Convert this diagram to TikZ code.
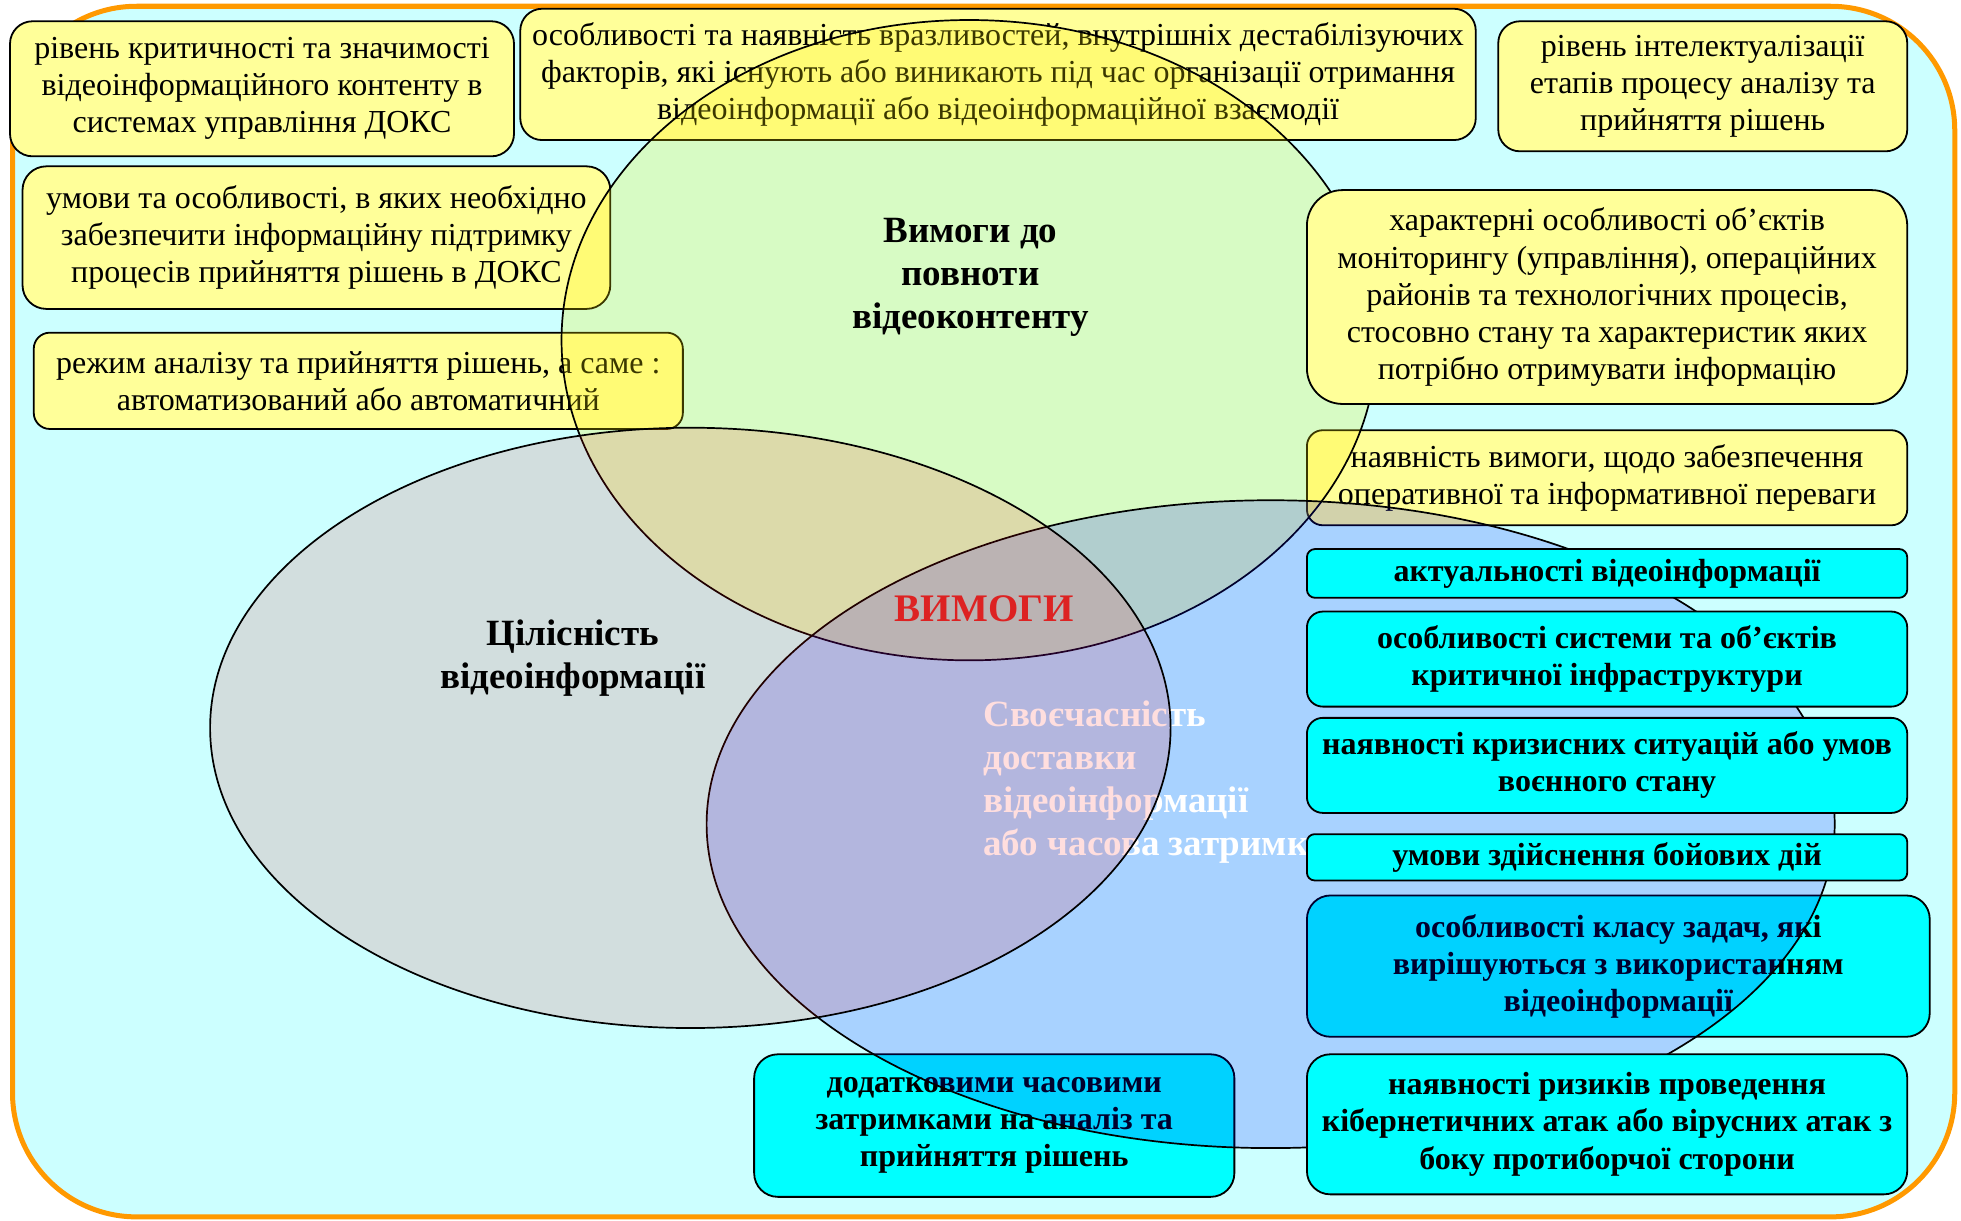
\documentclass[tikz,border=0pt]{standalone}
\usepackage{fontspec}
\setmainfont{Liberation Serif}
\definecolor{bgc}{HTML}{CCFFFF}
\definecolor{framec}{HTML}{FF9900}
\definecolor{yboxc}{HTML}{FFFF99}
\definecolor{cboxc}{HTML}{00FFFF}
\definecolor{vredc}{HTML}{DD2222}
\tikzset{
 ybx/.style={draw=black, line width=0.9pt, fill=yboxc, align=center, inner sep=0pt, font=\fontsize{16}{18.5}\selectfont},
 cbx/.style={draw=black, line width=0.9pt, fill=cboxc, align=center, inner sep=0pt, font=\fontsize{16}{18.5}\selectfont\bfseries},
 venn/.style={draw=black, line width=0.85pt},
 lbl/.style={align=center, inner sep=0pt, font=\fontsize{18.5}{21.5}\selectfont\bfseries}
}
\newcommand\pbox[7]{%
  \pgfmathsetmacro\bw{(#4-#2)*0.625}%
  \pgfmathsetmacro\bh{(#5-#3)*0.625}%
  \pgfmathsetmacro\br{min(\bw,\bh)/6}%
  \node[#6, minimum width=\bw pt, minimum height=\bh pt, rounded corners=\br pt] (#1) at ({(#2+#4)/2},{(#3+#5)/2}) {#7};%
}
\begin{document}
\begin{tikzpicture}[x=0.625pt,y=-0.625pt]
\useasboundingbox (0,0) rectangle (1568,976);
% frame
\draw[framec, line width=2.5pt, fill=bgc, rounded corners=62pt] (10,5) rectangle (1563,973);
% boxes lying under the circles
\pbox{y2}{416}{7}{1180}{112}{ybx}{особливості та наявність вразливостей, внутрішніх дестабілізуючих\\факторів, які існують або виникають під час організації отримання\\відеоінформації або відеоінформаційної взаємодії}
\pbox{y4}{18}{133}{488}{247}{ybx}{умови та особливості, в яких необхідно\\забезпечити інформаційну підтримку\\процесів прийняття рішень в ДОКС}
\pbox{y5}{27}{266}{546}{343}{ybx}{режим аналізу та прийняття рішень, а саме :\\автоматизований або автоматичний}
\pbox{y7}{1045}{344}{1525}{420}{ybx}{наявність вимоги, щодо забезпечення\\оперативної та інформативної переваги}
\pbox{c5}{1045}{716}{1543}{829}{cbx}{особливості класу задач, які\\вирішуються з використанням\\відеоінформації}
\pbox{c7}{603}{843}{987}{957}{cbx}{додатковими часовими\\затримками на аналіз та\\прийняття рішень}
% circles
\draw[venn, fill=yellow, fill opacity=0.23] (775,272) ellipse [x radius=203.75pt, y radius=160pt];
\draw[venn, fill=blue, fill opacity=0.176] (1016,659) ellipse [x radius=281.875pt, y radius=161.875pt];
\node[lbl, anchor=west, align=left, text=white] (tim) at (786,625) {Своєчасність\\доставки\\відеоінформації\\або часова затримка};
\draw[venn, fill=red, fill opacity=0.13] (552,582) ellipse [x radius=240pt, y radius=150pt];
\node[lbl] (full) at (776,222) {Вимоги до\\повноти\\відеоконтенту};
\node[lbl] (integ) at (458,526) {Цілісність\\відеоінформації};
\node[lbl, text=vredc, font=\fontsize{19.5}{22}\selectfont\bfseries] (req) at (787,487) {ВИМОГИ};
% boxes lying over the circles
\pbox{y1}{8}{17}{411}{125}{ybx}{рівень критичності та значимості\\відеоінформаційного контенту в\\системах управління ДОКС}
\pbox{y3}{1198}{17}{1525}{121}{ybx}{рівень інтелектуалізації\\етапів процесу аналізу та\\прийняття рішень}
\pbox{y6}{1045}{152}{1525}{323}{ybx}{характерні особливості об’єктів\\моніторингу (управління), операційних\\районів та технологічних процесів,\\стосовно стану та характеристик яких\\потрібно отримувати інформацію}
\pbox{c1}{1045}{439}{1525}{478}{cbx}{актуальності відеоінформації}
\pbox{c2}{1045}{489}{1525}{565}{cbx}{особливості системи та об’єктів\\критичної інфраструктури}
\pbox{c3}{1045}{574}{1525}{650}{cbx}{наявності кризисних ситуацій або умов\\воєнного стану}
\pbox{c4}{1045}{667}{1525}{704}{cbx}{умови здійснення бойових дій}
\pbox{c6}{1045}{843}{1525}{955}{cbx}{наявності ризиків проведення\\кібернетичних атак або вірусних атак з\\боку протиборчої сторони}
\end{tikzpicture}
\end{document}
